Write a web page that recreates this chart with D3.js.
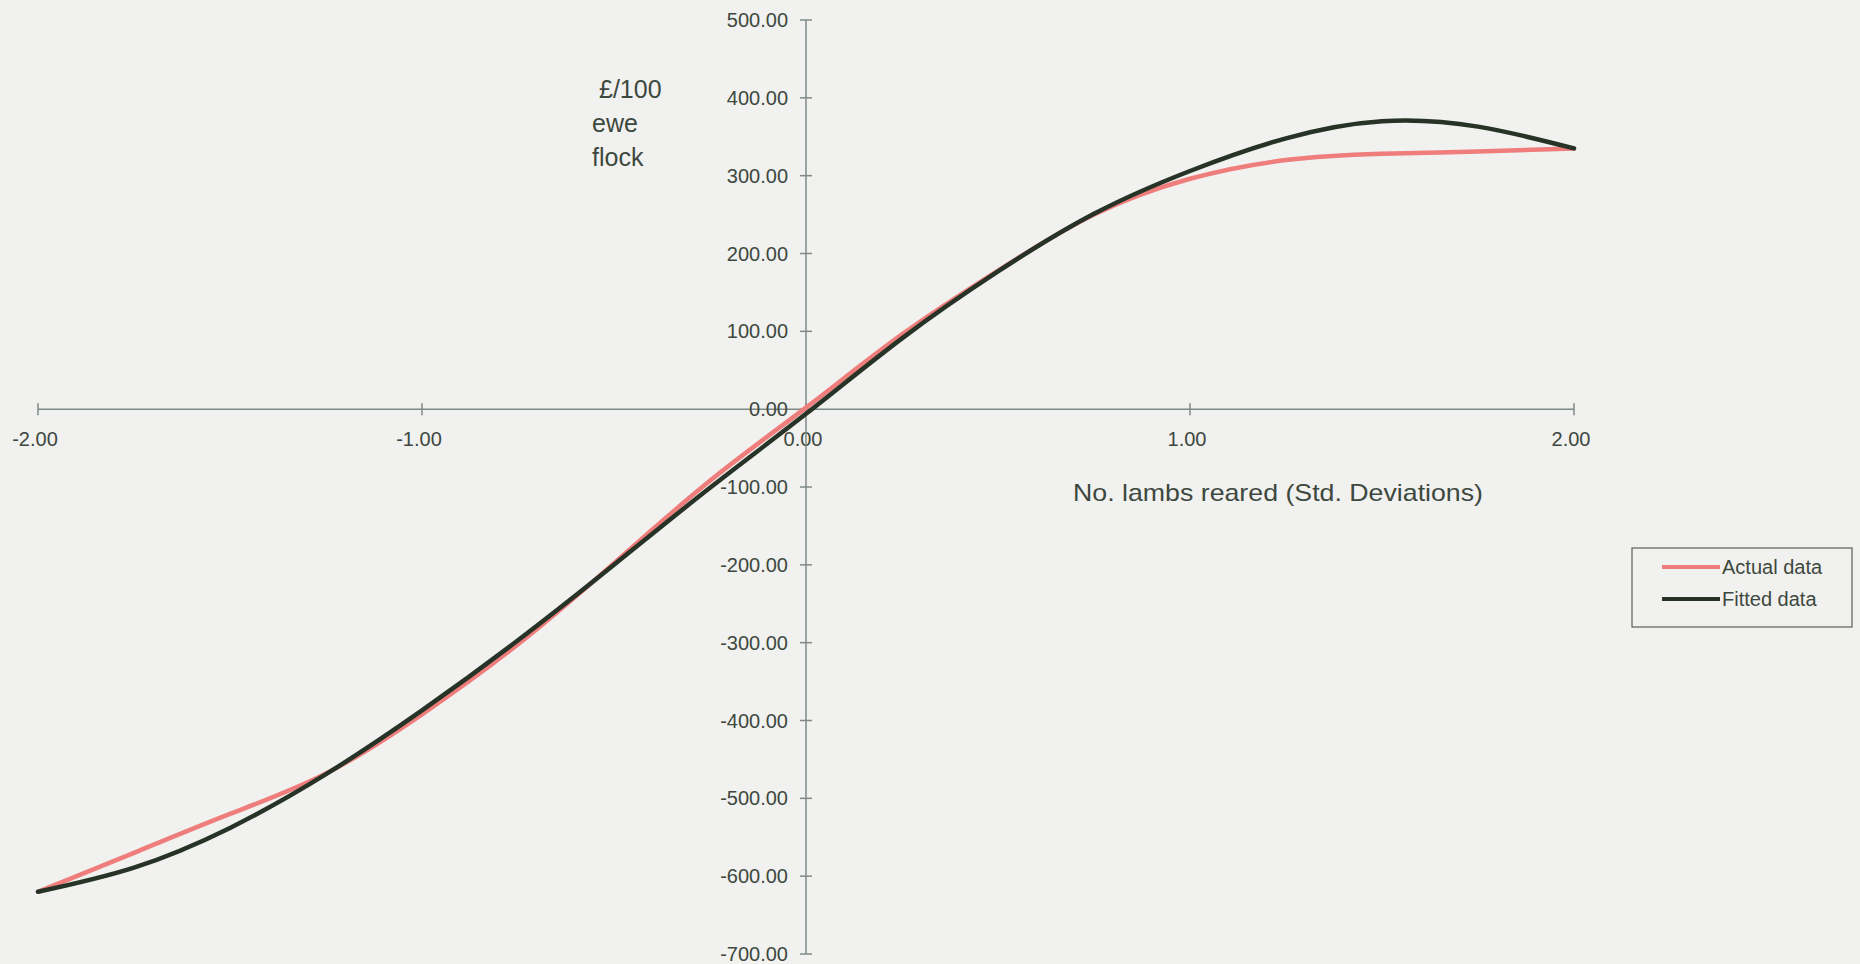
<!DOCTYPE html>
<html>
<head>
<meta charset="utf-8">
<script src="https://cdn.jsdelivr.net/npm/d3@7"></script>
<style>
  html, body { margin: 0; padding: 0; background: #f1f1ef; }
  svg { display: block; }
  text { font-family: "Liberation Sans", Arial, sans-serif; fill: #3d483e; }
</style>
</head>
<body>
<svg id="chart" width="1860" height="964"></svg>
<script>
// ---- data ----
const xValues   = [-2, -1.75, -1.5, -1.25, -1, -0.75, -0.5, -0.25, 0, 0.25, 0.5, 0.75, 1, 1.25, 1.5, 1.75, 2];
const actualData = [-620, -570, -520, -468, -392, -302, -198, -92, 2, 96, 178, 250, 296, 320, 328, 331, 335];
const fittedData = [-620, -589, -538, -469, -387, -297, -200, -101, -6, 91, 177, 251, 306, 348, 370, 363, 335];
const xTicks = [-2, -1, 0, 1, 2];
const yTicks = [500, 400, 300, 200, 100, 0, -100, -200, -300, -400, -500, -600, -700];
const seriesNames = ["Actual data", "Fitted data"];
const seriesColors = ["#ee7d7b", "#263326"];
const yLabelLines = ["£/100", "ewe", "flock"];
const xTitle = "No. lambs reared (Std. Deviations)";

const fmt = d => d.toFixed(2);

// ---- scales ----
const svg = d3.select("#chart");
const x = d3.scaleLinear().domain([-2, 2]).range([38, 1574]);
const y = d3.scaleLinear().domain([-700, 500]).range([954, 20]);
const axisColor = "#7f8a87";

// x axis (at y = 0)
const xAxisG = svg.append("g").attr("transform", `translate(0,${y(0)})`);
xAxisG.append("line").attr("x1", x(-2)).attr("x2", x(2)).attr("y1", 0).attr("y2", 0)
  .attr("stroke", axisColor).attr("stroke-width", 1.5);
xAxisG.selectAll("line.tick").data(xTicks).join("line").attr("class", "tick")
  .attr("x1", d => x(d)).attr("x2", d => x(d)).attr("y1", -6).attr("y2", 6)
  .attr("stroke", axisColor).attr("stroke-width", 1.5);
xAxisG.selectAll("text").data(xTicks).join("text")
  .attr("x", d => x(d) - 3).attr("y", 37)
  .attr("text-anchor", "middle").attr("font-size", 20)
  .text(fmt);

// y axis (at x = 0)
const yAxisG = svg.append("g").attr("transform", `translate(${x(0)},0)`);
yAxisG.append("line").attr("x1", 0).attr("x2", 0).attr("y1", y(500)).attr("y2", y(-700))
  .attr("stroke", axisColor).attr("stroke-width", 1.5);
yAxisG.selectAll("line.tick").data(yTicks).join("line").attr("class", "tick")
  .attr("x1", -6).attr("x2", 6).attr("y1", d => y(d)).attr("y2", d => y(d))
  .attr("stroke", axisColor).attr("stroke-width", 1.5);
yAxisG.selectAll("text").data(yTicks).join("text")
  .attr("x", -18).attr("y", d => y(d)).attr("dy", "0.35em")
  .attr("text-anchor", "end").attr("font-size", 20)
  .text(fmt);

// axis titles
svg.append("text").attr("x", 1278).attr("y", 501).attr("text-anchor", "middle")
  .attr("font-size", 24).attr("textLength", 410).attr("lengthAdjust", "spacingAndGlyphs")
  .text(xTitle);
const yl = svg.append("text").attr("font-size", 25);
yl.selectAll("tspan").data(yLabelLines).join("tspan")
  .attr("x", (d, i) => i === 0 ? 599 : 592)
  .attr("y", (d, i) => 98 + i * 34)
  .text(d => d);

// lines
const line = d3.line().x(d => x(d[0])).y(d => y(d[1])).curve(d3.curveNatural);
const series = [actualData, fittedData];
svg.append("g").selectAll("path").data(series).join("path")
  .attr("d", s => line(xValues.map((v, i) => [v, s[i]])))
  .attr("fill", "none")
  .attr("stroke", (d, i) => seriesColors[i])
  .attr("stroke-width", 4.5)
  .attr("stroke-linecap", "round");

// legend
const lg = svg.append("g");
lg.append("rect").attr("x", 1632).attr("y", 548).attr("width", 220).attr("height", 79)
  .attr("fill", "none").attr("stroke", "#5a5f5a").attr("stroke-width", 1.2);
const items = lg.selectAll("g.item").data(seriesNames).join("g").attr("class", "item")
  .attr("transform", (d, i) => `translate(0,${567 + i * 32})`);
items.append("line").attr("x1", 1662).attr("x2", 1720).attr("y1", 0).attr("y2", 0)
  .attr("stroke", (d, i) => seriesColors[i]).attr("stroke-width", 4);
items.append("text").attr("x", 1722).attr("y", 0).attr("dy", "0.35em")
  .attr("font-size", 20).text(d => d);
</script>
</body>
</html>
